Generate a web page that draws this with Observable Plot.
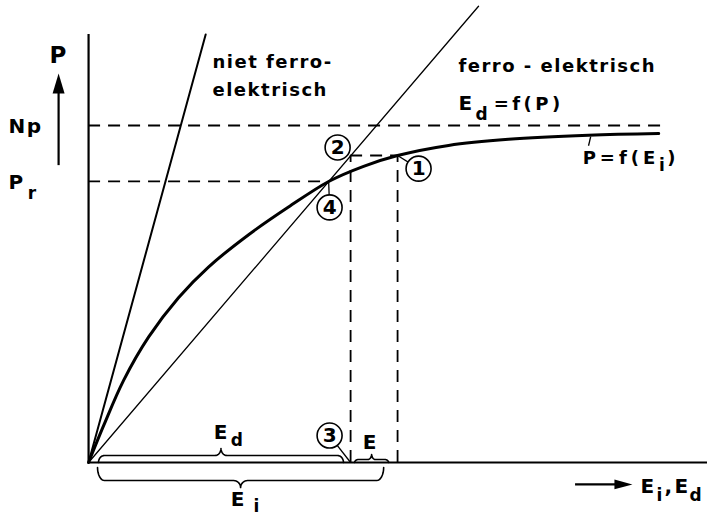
<!DOCTYPE html>
<html>
<head>
<meta charset="utf-8">
<script src="https://cdn.jsdelivr.net/npm/d3@7"></script>
<script src="https://cdn.jsdelivr.net/npm/@observablehq/plot@0.6"></script>
<style>
  body { margin: 0; background: #fff; }
  #chart svg { display: block; }
  #chart text { letter-spacing: 1.5px; font-weight: bold; }
</style>
</head>
<body>
<div id="chart"></div>
<script>
// Polarisation curve P = f(E_i) of a ferro-electric material
const curveE = [0, 0.049, 0.113, 0.194, 0.291, 0.388, 0.518, 0.647, 0.777, 0.890, 1.000, 1.165, 1.359, 1.618, 1.845];
const curveP = [0, 0.110, 0.243, 0.372, 0.489, 0.580, 0.676, 0.758, 0.834, 0.879, 0.911, 0.941, 0.959, 0.971, 0.976];

// Characteristic levels and working points
const Np = 1.0;     // saturation polarisation
const Pr = 0.834;   // remanent polarisation (point 4)
const E4 = 0.777;   // field at point 4
const E2 = 0.848;   // depolarising field E_d (points 2 and 3)
const E1 = 1.0;     // internal field E_i (point 1)
const P1 = 0.911;   // polarisation at points 1 and 2

// Straight characteristics through the origin
const nonFerroE = [0, 0.379];
const nonFerroP = [0, 1.27];
const ferroE = [0, 1.262];
const ferroP = [0, 1.354];

// Axis extents
const axisTopP = 1.27;
const axisEndE = 2.003;
const npEndE = 1.874;

// Circled point numbers and the spot each one refers to
const pointNo = ["1", "2", "3", "4"];
const pointE  = [1.068, 0.806, 0.780, 0.780];
const pointP  = [0.872, 0.935, 0.080, 0.757];
const leaderE = [E1, null, E2, E4];
const leaderP = [P1, null, 0, Pr];

// Text labels (left edge, baseline) and their sizes
const labelText = ["Np", "P", "r", "niet ferro-", "elektrisch", "ferro - elektrisch",
  "E", "d", "=f(P)", "P=f(E", "i", ")", "E", "d", "E", "E", "i", "E", "i", ",", "E", "d"];
const labelE = [-0.259, -0.259, -0.197, 0.401, 0.401, 1.197,
  1.197, 1.252, 1.311, 1.599, 1.846, 1.873, 0.405, 0.460, 0.887, 0.460, 0.534, 1.786, 1.838, 1.864, 1.896, 1.945];
const labelP = [0.979, 0.813, 0.783, 1.172, 1.089, 1.160,
  1.045, 1.015, 1.045, 0.887, 0.866, 0.887, 0.0712, 0.0504, 0.0415, -0.1276, -0.148, -0.089, -0.113, -0.089, -0.089, -0.113];
const labelSize = [20, 20, 17, 18, 18, 18,
  20, 17, 18, 18, 17, 18, 20, 17, 20, 20, 17, 20, 17, 20, 20, 17];
// Wider letter spacing for the two formula labels
const wideSpacing = {"=f(P)": "3.5px", "P=f(E": "4px"};

// Axis arrows
const pArrowE = -0.097, pArrowP = [0.881, 1.119], pHeadP = 1.125;
const eArrowP = -0.065, eArrowE = [1.576, 1.722], eHeadE = 1.731;

// Braces: [from E, to E, base P, direction, bar offset px, tip px, corner px]
const braceSpecs = [
  [0.032, 0.825, 0, 1, 7, 7, 6],      // E_d
  [0.861, 0.971, 0, 1, 3, 5, 4],      // E
  [0.029, 0.955, -0.015, -1, 13, 7, 7] // E_i
];

const xDomain = [-0.285, 2.003], yDomain = [-0.178, 1.371];
const W = 707, H = 522;
const ux = (xDomain[1] - xDomain[0]) / W;
const uy = (yDomain[1] - yDomain[0]) / H;

function bracePoints([e0, e1, p0, dir, bar, tip, r], id) {
  const pts = [];
  const em = (e0 + e1) / 2;
  const n = 8;
  const add = (e, pxUp) => pts.push({id, E: e, P: p0 + dir * pxUp * uy});
  for (let k = 0; k <= n; k++) { const t = k / n * Math.PI / 2; add(e0 + r * (1 - Math.cos(t)) * ux, bar * Math.sin(t)); }
  for (let k = 0; k <= n; k++) { const t = k / n * Math.PI / 2; add(em - r * ux + r * Math.sin(t) * ux, bar + tip * (1 - Math.cos(t))); }
  for (let k = n; k >= 0; k--) { const t = k / n * Math.PI / 2; add(em + r * ux - r * Math.sin(t) * ux, bar + tip * (1 - Math.cos(t))); }
  for (let k = n; k >= 0; k--) { const t = k / n * Math.PI / 2; add(e1 - r * (1 - Math.cos(t)) * ux, bar * Math.sin(t)); }
  return pts;
}

const curve = curveE.map((E, i) => ({E, P: curveP[i]}));
const points = pointNo.map((n, i) => ({n, E: pointE[i], P: pointP[i], LE: leaderE[i], LP: leaderP[i]}));
const labels = labelText.map((t, i) => ({t, E: labelE[i], P: labelP[i], s: labelSize[i]}));
const braces = braceSpecs.flatMap((b, i) => bracePoints(b, i));

// Narrow filled arrowheads
const headUp = {draw(c, size) { const r = Math.sqrt(size / Math.PI); c.moveTo(0, -r); c.lineTo(0.6 * r, r); c.lineTo(-0.6 * r, r); c.closePath(); }};
const headRight = {draw(c, size) { const r = Math.sqrt(size / Math.PI); c.moveTo(r, 0); c.lineTo(-r, 0.55 * r); c.lineTo(-r, -0.55 * r); c.closePath(); }};

const dash = "12,8";
const chart = Plot.plot({
  width: W, height: H,
  margin: 0,
  x: {domain: xDomain, range: [0, W], axis: null},
  y: {domain: yDomain, range: [H, 0], axis: null},
  style: {fontFamily: "DejaVu Sans", background: "#fff", color: "#000"},
  marks: [
    // axes
    Plot.ruleX([0], {y1: 0, y2: axisTopP, strokeWidth: 2.2}),
    Plot.ruleY([0], {x1: 0, x2: axisEndE, strokeWidth: 2.2}),
    // dashed guides
    Plot.ruleY([Np], {x1: 0, x2: npEndE, strokeWidth: 1.8, strokeDasharray: dash}),
    Plot.ruleY([Pr], {x1: 0, x2: E4, strokeWidth: 1.8, strokeDasharray: dash}),
    Plot.ruleY([P1], {x1: E2, x2: E1, strokeWidth: 1.8, strokeDasharray: dash}),
    Plot.ruleX([E2], {y1: 0, y2: P1, strokeWidth: 1.8, strokeDasharray: dash}),
    Plot.ruleX([E1], {y1: 0, y2: P1, strokeWidth: 1.8, strokeDasharray: dash}),
    // straight characteristics
    Plot.line(nonFerroE.map((E, i) => ({E, P: nonFerroP[i]})), {x: "E", y: "P", strokeWidth: 2}),
    Plot.line(ferroE.map((E, i) => ({E, P: ferroP[i]})), {x: "E", y: "P", strokeWidth: 1.3}),
    // P = f(E_i)
    Plot.line(curve, {x: "E", y: "P", curve: "catmull-rom", strokeWidth: 3}),
    Plot.link([{}], {x1: 1.625, y1: 0.967, x2: 1.618, y2: 0.94, strokeWidth: 1.3}),
    // braces
    Plot.line(braces, {x: "E", y: "P", z: "id", strokeWidth: 1.6}),
    // leaders and circled numbers
    Plot.link(points.filter(d => d.LE != null), {x1: "LE", y1: "LP", x2: "E", y2: "P", strokeWidth: 1.3}),
    Plot.dot(points, {x: "E", y: "P", r: 12.5, fill: "#fff", stroke: "#000", strokeWidth: 1.6}),
    Plot.text(points, {x: "E", y: "P", text: "n", fontSize: 20, dx: 0.8, fill: "#000"}),
    // axis arrows
    Plot.ruleX([pArrowE], {y1: pArrowP[0], y2: pArrowP[1], strokeWidth: 2.2}),
    Plot.dot([{E: pArrowE, P: pHeadP}], {x: "E", y: "P", r: 10, symbol: headUp, fill: "#000", stroke: null}),
    Plot.ruleY([eArrowP], {x1: eArrowE[0], x2: eArrowE[1], strokeWidth: 2.2}),
    Plot.dot([{E: eHeadE, P: eArrowP}], {x: "E", y: "P", r: 9, symbol: headRight, fill: "#000", stroke: null}),
    // texts
    Plot.text([{E: pArrowE, P: 1.187}], {x: "E", y: "P", text: () => "P", fontSize: 23, lineAnchor: "bottom", fill: "#000"}),
    Plot.text(labels, {x: "E", y: "P", text: "t", fontSize: "s", textAnchor: "start", lineAnchor: "bottom", fill: "#000"})
  ]
});
d3.select(chart).selectAll("text").each(function () {
  const s = wideSpacing[this.textContent];
  if (s) this.style.letterSpacing = s;
});
document.getElementById("chart").appendChild(chart);
</script>
</body>
</html>
